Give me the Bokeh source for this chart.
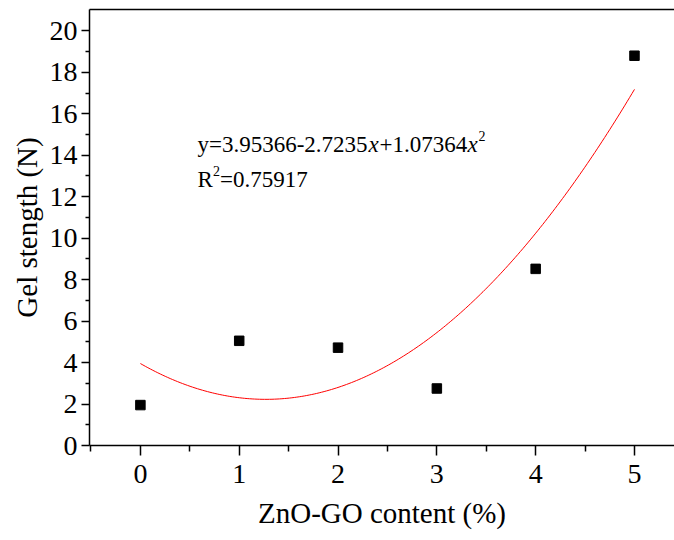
import numpy as np
from bokeh.plotting import figure
from bokeh.models import Range1d, LinearAxis, Label, FixedTicker
from bokeh.embed import file_html
from bokeh.resources import INLINE

# data
content = [0, 1, 2, 3, 4, 5]
gel_strength = [1.95, 5.05, 4.72, 2.75, 8.52, 18.8]
# fitted quadratic (as printed on the chart)
fit_a, fit_b, fit_c = 3.95366, -2.7235, 1.07364
x_ticks = [0, 1, 2, 3, 4, 5]
y_ticks = [0, 2, 4, 6, 8, 10, 12, 14, 16, 18, 20]

FONT = "Liberation Serif"

p = figure(width=674, height=540, output_backend="svg", toolbar_location=None,
           x_range=Range1d(-0.515, 5.405), y_range=Range1d(0, 21.03),
           min_border_left=89, min_border_right=0, min_border_top=9, min_border_bottom=95)
p.outline_line_color = None
p.grid.grid_line_color = None
p.background_fill_color = "white"
p.border_fill_color = "white"

fx = np.linspace(0, 5, 200)
fy = fit_a + fit_b * fx + fit_c * fx ** 2
p.line(fx, fy, line_color="#ff0000", line_width=1)
p.scatter(content, gel_strength, marker="square", size=9.5, color="black")

for ax in (p.xaxis[0], p.yaxis[0]):
    ax.axis_line_width = 1.5
    ax.axis_line_color = "black"
    ax.major_tick_line_width = 1.5
    ax.minor_tick_line_width = 1.5
    ax.major_tick_in = 0
    ax.minor_tick_in = 0
    ax.major_label_text_font = FONT
    ax.major_label_text_font_size = "28px"
    ax.major_label_text_color = "black"
    ax.axis_label_text_font = FONT
    ax.axis_label_text_font_size = "29px"
    ax.axis_label_text_font_style = "normal"
    ax.axis_label_text_color = "black"

p.xaxis.ticker = FixedTicker(ticks=x_ticks, minor_ticks=[-0.5, 0.5, 1.5, 2.5, 3.5, 4.5, 5.5])
p.yaxis.ticker = FixedTicker(ticks=y_ticks, minor_ticks=list(range(1, 21, 2)))
p.xaxis.major_tick_out = 10
p.xaxis.minor_tick_out = 6
p.yaxis.major_tick_out = 8
p.yaxis.minor_tick_out = 4
p.xaxis.major_label_standoff = 9
p.yaxis.major_label_standoff = 4

p.yaxis.axis_label = "Gel stength (N)"
p.yaxis.axis_label_standoff = 4
p.xaxis.axis_label = "ZnO-GO content (%)"
p.xaxis.axis_label_standoff = 11

# top border line
top = LinearAxis(ticker=FixedTicker(ticks=[]), major_tick_line_color=None, minor_tick_line_color=None,
                 major_label_text_font_size="0px", axis_line_width=1.5, axis_line_color="black")
p.add_layout(top, "above")

# equation text
ax0, ay0 = 0.577, 14.5
fs = "23px"
pieces = [
    ("y=3.95366-2.7235", 0, 0, "normal", fs),
    ("x", 171, 0, "italic", fs),
    ("+1.07364", 182, 0, "normal", fs),
    ("x", 270, 0, "italic", fs),
    ("2", 281, 9, "normal", "14px"),
    ("R", 0, -35, "normal", fs),
    ("2", 15.5, -26, "normal", "14px"),
    ("=0.75917", 22.5, -35, "normal", fs),
]
for txt, dx, dy, style, size in pieces:
    p.add_layout(Label(x=ax0, y=ay0, x_offset=dx, y_offset=dy, text=txt, text_font=FONT,
                       text_font_size=size, text_font_style=style, text_baseline="alphabetic",
                       text_color="black"))

open("out.html", "w").write(file_html(p, INLINE))
